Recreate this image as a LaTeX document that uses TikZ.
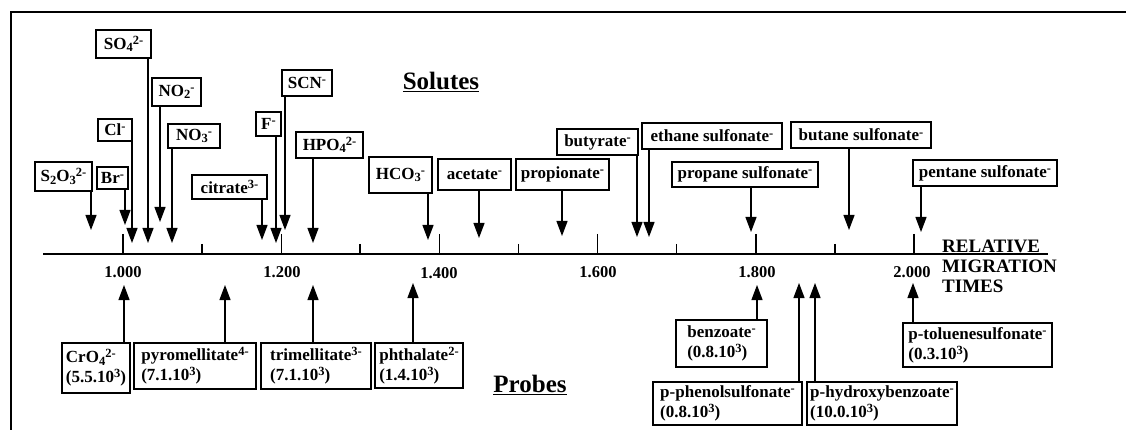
\documentclass[tikz,border=0pt]{standalone}
\usepackage{fontspec}
\setmainfont{Liberation Serif}
\usetikzlibrary{arrows.meta}
\newcommand\myup[1]{\raisebox{0.62ex}{\fontsize{12.5}{12.5}\selectfont #1}}
\newcommand\mydn[1]{\raisebox{-0.3ex}{\fontsize{12.5}{12.5}\selectfont #1}}
\tikzset{
  sbox/.style={draw, line width=1.1pt, font=\bfseries\fontsize{17}{19}\selectfont, inner sep=0pt, align=center},
  pbox/.style={draw, line width=1.1pt, font=\bfseries\fontsize{17}{20}\selectfont, inner sep=0pt, align=left},
  arr/.style={line width=1.2pt, -{Triangle[width=11pt,length=15pt]}},
  tlab/.style={font=\bfseries\fontsize{16.5}{18}\selectfont, inner sep=0pt},
  ttl/.style={font=\bfseries\fontsize{25}{30}\selectfont, inner sep=0pt},
  axisline/.style={line width=1.6pt},
  major/.style={line width=1.4pt},
  minor/.style={line width=1.2pt},
  frame/.style={line width=2.4pt}
}
\begin{document}
\begin{tikzpicture}[x=1pt,y=-1pt]
\useasboundingbox[fill=white] (0,0) rectangle (1126,430);
% frame
\draw[frame] (11,430) -- (11,12) -- (1126,12);
% axis
\draw[axisline] (43,254) -- (1048,254);
\foreach \x in {123,281.2,439.4,597.6,755.8,914} \draw[major] (\x,234) -- (\x,254);
\foreach \x in {202,360,518.5,676.7,835} \draw[minor] (\x,244) -- (\x,254);
\node[tlab] (l10) at (123,272) {1.000};
\node[tlab] (l12) at (282,272) {1.200};
\node[tlab] (l14) at (439,273) {1.400};
\node[tlab] (l16) at (598,272) {1.600};
\node[tlab] (l18) at (757,272) {1.800};
\node[tlab] (l20) at (912,272) {2.000};
\node[font=\bfseries\fontsize{19}{20}\selectfont, align=left, anchor=west, inner sep=0pt] (rmt) at (942,266) {RELATIVE\\MIGRATION\\TIMES};
% titles
\node[ttl] (solutes) at (441,82) {\underline{Solutes}};
\node[ttl] (probes) at (530,385) {\underline{Probes}};
% solutes
\node[sbox, minimum width=55pt, minimum height=28pt] (so4) at (123.5,44) {SO\mydn{4}\myup{2-}};
\node[sbox, minimum width=49pt, minimum height=28pt] (no2) at (176.5,92) {NO\mydn{2}\myup{-}};
\node[sbox, minimum width=34pt, minimum height=22pt] (cl) at (115,130) {Cl\myup{-}};
\node[sbox, minimum width=52pt, minimum height=24pt] (no3) at (194,136) {NO\mydn{3}\myup{-}};
\node[sbox, minimum width=57pt, minimum height=29pt] (s2o3) at (63.5,176.5) {S\mydn{2}O\mydn{3}\myup{2-}};
\node[sbox, minimum width=31pt, minimum height=22pt] (br) at (112.5,178) {Br\myup{-}};
\node[sbox, minimum width=25pt, minimum height=24pt] (f) at (268.5,124) {F\myup{-}};
\node[sbox, minimum width=75pt, minimum height=24pt] (citrate) at (229.5,187) {citrate\myup{3-}};
\node[sbox, minimum width=50pt, minimum height=26pt] (scn) at (307,83) {SCN\myup{-}};
\node[sbox, minimum width=67pt, minimum height=26pt] (hpo4) at (329.5,145) {HPO\mydn{4}\myup{2-}};
\node[sbox, minimum width=63pt, minimum height=36pt] (hco3) at (400.5,175) {HCO\mydn{3}\myup{-}};
\node[sbox, minimum width=73pt, minimum height=31pt] (acetate) at (474.5,174.5) {acetate\myup{-}};
\node[sbox, minimum width=93pt, minimum height=31pt] (propionate) at (562.5,174.5) {propionate\myup{-}};
\node[sbox, minimum width=81pt, minimum height=26pt] (butyrate) at (597.5,142) {butyrate\myup{-}};
\node[sbox, minimum width=140pt, minimum height=26pt] (ethane) at (712,136) {ethane sulfonate\myup{-}};
\node[sbox, minimum width=146pt, minimum height=25pt] (propane) at (745,174.5) {propane sulfonate\myup{-}};
\node[sbox, minimum width=140pt, minimum height=26pt] (butane) at (861,135) {butane sulfonate\myup{-}};
\node[sbox, minimum width=144pt, minimum height=26pt] (pentane) at (985,173) {pentane sulfonate\myup{-}};
% solute tips
\coordinate (so4t) at (148,243);
\coordinate (no2t) at (160,222);
\coordinate (clt) at (132,243);
\coordinate (no3t) at (172,243);
\coordinate (s2o3t) at (91,230);
\coordinate (brt) at (125,225);
\coordinate (ft) at (276,243);
\coordinate (citratet) at (262,240);
\coordinate (scnt) at (285,230);
\coordinate (hpo4t) at (313,243);
\coordinate (hco3t) at (428,240);
\coordinate (acetatet) at (479,238);
\coordinate (propionatet) at (562,236);
\coordinate (butyratet) at (637,237);
\coordinate (ethanet) at (649,237);
\coordinate (propanet) at (751,232);
\coordinate (butanet) at (849,230);
\coordinate (pentanet) at (921,232);
\foreach \n in {so4,no2,cl,no3,s2o3,br,f,citrate,scn,hpo4,hco3,acetate,propionate,butyrate,ethane,propane,butane,pentane}
  \draw[arr] (\n.south -| \n t) -- (\n t);
% probes
\node[pbox, minimum width=68pt, minimum height=50pt] (cro4) at (96,368) {CrO\mydn{4}\myup{2-}\\(5.5.10\myup{3})};
\node[pbox, minimum width=122pt, minimum height=46pt] (pyro) at (195,366) {pyromellitate\myup{4-}\\(7.1.10\myup{3})};
\node[pbox, minimum width=110pt, minimum height=46pt] (trim) at (316,366) {trimellitate\myup{3-}\\(7.1.10\myup{3})};
\node[pbox, minimum width=88pt, minimum height=45pt] (phth) at (419,365.5) {phthalate\myup{2-}\\(1.4.10\myup{3})};
\node[pbox, minimum width=91pt, minimum height=47pt] (benz) at (721.5,343.5) {benzoate\myup{-}\\(0.8.10\myup{3})};
\node[pbox, minimum width=149pt, minimum height=43pt] (phenol) at (727.5,403.5) {p-phenolsulfonate\myup{-}\\(0.8.10\myup{3})};
\node[pbox, minimum width=150pt, minimum height=43pt] (hydroxy) at (882,403.5) {p-hydroxybenzoate\myup{-}\\(10.0.10\myup{3})};
\node[pbox, minimum width=149pt, minimum height=44pt] (toluene) at (977.5,345) {p-toluenesulfonate\myup{-}\\(0.3.10\myup{3})};
\coordinate (cro4t) at (124,285);
\coordinate (pyrot) at (225,285);
\coordinate (trimt) at (313,285);
\coordinate (phtht) at (413,283);
\coordinate (benzt) at (757,285);
\coordinate (phenolt) at (799,283);
\coordinate (hydroxyt) at (815,283);
\coordinate (toluenet) at (913,283);
\foreach \n in {cro4,pyro,trim,phth,benz,phenol,hydroxy,toluene}
  \draw[arr] (\n.north -| \n t) -- (\n t);
\end{tikzpicture}
\end{document}
